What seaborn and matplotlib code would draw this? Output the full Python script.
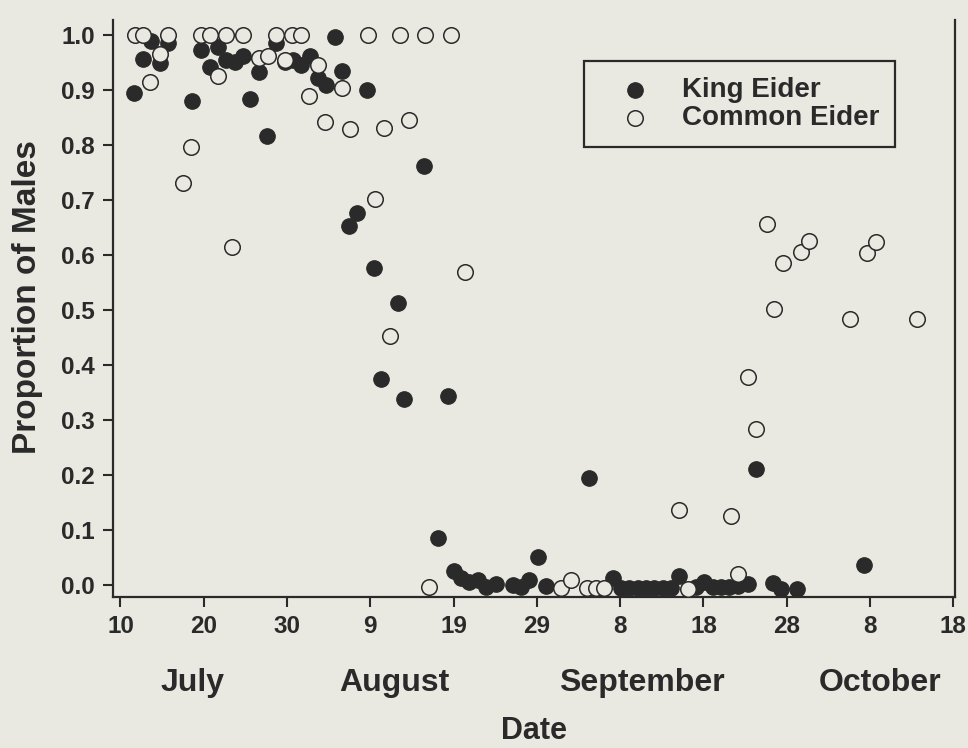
import matplotlib
matplotlib.use("Agg")
import matplotlib.pyplot as plt
import matplotlib.transforms as mtransforms
import numpy as np
import pandas as pd
import seaborn as sns

# Days counted from 10 July
king_day = [1.6, 2.7, 3.7, 4.7, 5.7, 8.6, 9.7, 10.7, 11.7, 12.7, 13.7, 14.7,
            15.6, 16.6, 17.6, 18.7, 19.7, 20.7, 21.7, 22.7, 23.7, 24.7, 25.7,
            26.6, 27.4, 28.4, 29.6, 30.4, 31.3, 33.3, 34.1, 36.5, 38.1, 39.3,
            40.0, 40.9, 41.9, 42.9, 43.9, 45.1, 47.1, 48.1, 49.1, 50.1, 51.1,
            56.2, 59.1, 60.1, 61.1, 62.1, 63.1, 64.1, 65.1, 66.1, 67.1, 69.1,
            70.1, 71.1, 72.1, 73.1, 74.1, 75.3, 76.3, 78.3, 79.3, 81.2, 89.3]
king_prop = [0.894, 0.957, 0.988, 0.949, 0.985, 0.879, 0.972, 0.941, 0.978,
             0.955, 0.951, 0.962, 0.884, 0.932, 0.816, 0.986, 0.950, 0.955,
             0.945, 0.961, 0.921, 0.909, 0.997, 0.935, 0.653, 0.677, 0.899,
             0.577, 0.374, 0.513, 0.338, 0.762, 0.086, 0.344, 0.025, 0.012,
             0.006, 0.009, -0.004, 0.002, -0.001, -0.004, 0.009, 0.050, -0.002,
             0.195, 0.012, -0.005, -0.005, -0.005, -0.005, -0.005, -0.005,
             -0.005, 0.016, -0.003, 0.005, -0.003, -0.003, -0.003, -0.002,
             0.002, 0.210, 0.003, -0.008, -0.008, 0.037]

common_day = [1.7, 2.7, 5.7, 9.7, 10.7, 12.7, 14.7, 18.7, 20.6, 21.7, 29.7,
              33.6, 36.6, 39.7, 3.6, 4.7, 7.5, 8.5, 11.7, 13.4, 16.6, 17.7,
              19.7, 22.6, 23.7, 24.6, 26.6, 27.5, 30.6, 31.6, 32.3, 34.6, 37.0,
              41.4, 52.9, 54.1, 56.0, 57.1, 58.1, 67.1, 68.1, 73.3, 74.2, 75.4,
              76.3, 77.6, 78.5, 79.6, 81.7, 82.7, 87.6, 89.6, 90.7, 95.6]
common_prop = [1.0, 1.0, 1.0, 1.0, 1.0, 1.0, 1.0, 1.0, 1.0, 1.0, 1.0,
               1.0, 1.0, 1.0, 0.915, 0.965, 0.730, 0.797, 0.925, 0.614, 0.958,
               0.961, 0.954, 0.889, 0.945, 0.842, 0.904, 0.829, 0.702, 0.830,
               0.452, 0.845, -0.004, 0.568, -0.005, 0.008, -0.006, -0.006,
               -0.006, 0.137, -0.008, 0.126, 0.020, 0.378, 0.283, 0.656, 0.501,
               0.585, 0.605, 0.625, 0.484, 0.603, 0.624, 0.483]

x_ticks = [0, 10, 20, 30, 40, 50, 60, 70, 80, 90, 100]
x_tick_labels = ["10", "20", "30", "9", "19", "29", "8", "18", "28", "8", "18"]
y_ticks = [0.0, 0.1, 0.2, 0.3, 0.4, 0.5, 0.6, 0.7, 0.8, 0.9, 1.0]
months = ["July", "August", "September", "October"]
month_pos = [8.6, 32.9, 62.6, 91.2]

BG = "#e9e9e1"
INK = "#2a2a2a"

sns.set_style("ticks")
plt.rcParams["font.family"] = ["Liberation Sans", "DejaVu Sans"]
plt.rcParams["font.weight"] = "bold"

king = pd.DataFrame({"day": king_day, "prop": king_prop})
common = pd.DataFrame({"day": common_day, "prop": common_prop})

fig = plt.figure(figsize=(9.68, 7.48), dpi=100, facecolor=BG)
ax = fig.add_axes([113 / 968, (748 - 597) / 748, (955 - 113) / 968, (597 - 20) / 748])
ax.set_facecolor(BG)

sns.scatterplot(data=king, x="day", y="prop", ax=ax, s=125, color=INK,
                edgecolor=INK, linewidth=0.8, label="King Eider", zorder=3)
sns.scatterplot(data=common, x="day", y="prop", ax=ax, s=125, facecolor=BG,
                edgecolor=INK, linewidth=1.1, label="Common Eider", zorder=4)

ax.set_xlim(-0.9, 100.2)
ax.set_ylim(-0.022, 1.027)
ax.set_xticks(x_ticks)
ax.set_xticklabels(x_tick_labels)
ax.set_yticks(y_ticks)
ax.set_yticklabels([f"{v:.1f}" for v in y_ticks])
ax.tick_params(axis="both", direction="out", length=7, width=1.5, colors=INK,
               labelsize=17.5, labelcolor=INK)
ax.tick_params(axis="x", pad=6)
ax.tick_params(axis="y", pad=6)
for lab in ax.get_xticklabels() + ax.get_yticklabels():
    lab.set_fontweight("bold")

for side in ["left", "bottom", "right"]:
    ax.spines[side].set_linewidth(1.6)
    ax.spines[side].set_color(INK)
ax.spines["top"].set_visible(False)

ax.set_xlabel("Date", fontsize=22, fontweight="bold", color=INK, va="top")
ax.xaxis.set_label_coords(0.5, -0.207)
ax.set_ylabel("Proportion of Males", fontsize=24, fontweight="bold", color=INK)
ax.yaxis.set_label_coords(-0.083, 0.52)

month_tf = mtransforms.blended_transform_factory(ax.transData, ax.transAxes)
for name, pos in zip(months, month_pos):
    ax.text(pos, -0.149, name, transform=month_tf, ha="center", va="center",
            fontsize=23, fontweight="bold", color=INK)

leg = ax.legend(loc="upper left", bbox_to_anchor=(0.559, 0.929), borderaxespad=0,
                frameon=True, fancybox=False, edgecolor=INK, facecolor=BG,
                framealpha=1, prop={"size": 20, "weight": "bold"},
                handlelength=2.5, handletextpad=0.45, borderpad=0.58,
                labelspacing=0.08, markerscale=1.0)
leg.get_frame().set_linewidth(1.6)
for t in leg.get_texts():
    t.set_color(INK)

fig.savefig("out.png", dpi=100, facecolor=BG)
